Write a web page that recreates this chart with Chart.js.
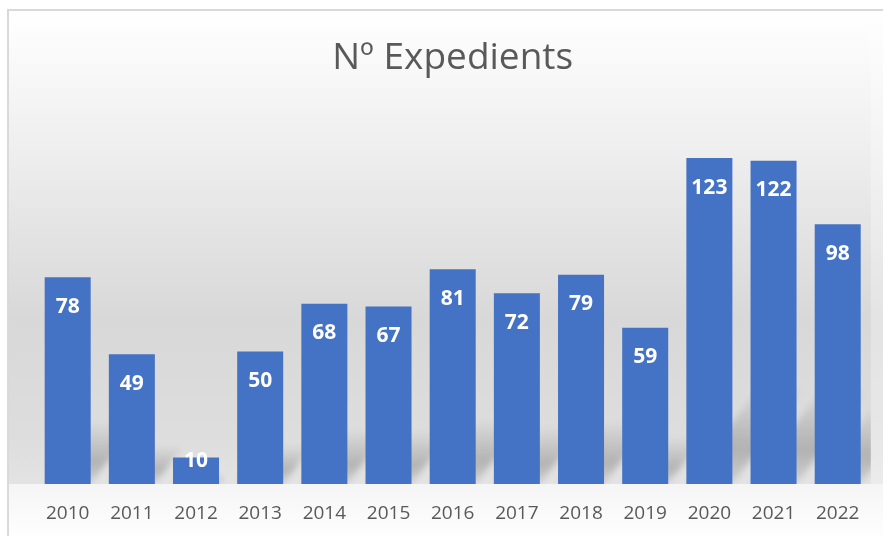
<!DOCTYPE html>
<html lang="ca">
<head>
    <meta charset="UTF-8">
    <title>Nº Expedients</title>
    <script src="https://cdn.jsdelivr.net/npm/chart.js"></script>
    <style>
        html, body { margin: 0; padding: 0; background: #fff; }
        canvas { display: block; }
    </style>
</head>
<body>
    <canvas id="myChart" width="883" height="536"></canvas>
    <script>
        const years = ['2010', '2011', '2012', '2013', '2014', '2015', '2016', '2017', '2018', '2019', '2020', '2021', '2022'];
        const expedients = [78, 49, 10, 50, 68, 67, 81, 72, 79, 59, 123, 122, 98];
        const chartTitle = 'Nº Expedients';

        // grey gradient panel with a thin frame, like an office chart
        const panelBackground = {
            id: 'panelBackground',
            beforeDraw(chart) {
                const { ctx, chartArea } = chart;
                const W = chart.width, H = chart.height;
                ctx.save();
                ctx.fillStyle = '#ffffff';
                ctx.fillRect(0, 0, W, H);

                const g = ctx.createLinearGradient(0, 11, 0, chartArea.bottom);
                g.addColorStop(0, '#ffffff');
                g.addColorStop(0.3, '#eeeeee');
                g.addColorStop(0.65, '#d8d8d8');
                g.addColorStop(0.9, '#dddddd');
                g.addColorStop(1, '#e3e3e3');
                ctx.fillStyle = g;
                ctx.fillRect(9, 11, W, chartArea.bottom - 11);

                // lighter strip past the plot on the right
                ctx.fillStyle = 'rgba(255,255,255,0.3)';
                ctx.fillRect(chartArea.right + 1, 11, W, chartArea.bottom - 11);

                const g2 = ctx.createLinearGradient(0, chartArea.bottom, 0, H);
                g2.addColorStop(0, '#f5f5f5');
                g2.addColorStop(1, '#fefefe');
                ctx.fillStyle = g2;
                ctx.fillRect(9, chartArea.bottom, W, H - chartArea.bottom);

                ctx.strokeStyle = '#d9d9d9';
                ctx.lineWidth = 2;
                ctx.strokeRect(8, 10, W + 20, H + 20);
                ctx.restore();
            }
        };

        // slanted soft shadows behind each bar
        const barShadows = {
            id: 'barShadows',
            beforeDatasetsDraw(chart) {
                const { ctx, chartArea } = chart;
                const meta = chart.getDatasetMeta(0);
                ctx.save();
                ctx.beginPath();
                ctx.rect(10, chartArea.top, chartArea.right + 1 - 10, chartArea.bottom - chartArea.top);
                ctx.clip();
                ctx.filter = 'blur(3px)';
                meta.data.forEach(bar => {
                    const { x, y, base, width } = bar.getProps(['x', 'y', 'base', 'width'], true);
                    const h = (base - y) * 0.3;
                    const s = h * 0.75;
                    const g = ctx.createLinearGradient(0, base, 0, base - h);
                    g.addColorStop(0, 'rgba(0,0,0,0.08)');
                    g.addColorStop(0.35, 'rgba(0,0,0,0.2)');
                    g.addColorStop(1, 'rgba(0,0,0,0)');
                    ctx.fillStyle = g;
                    ctx.beginPath();
                    ctx.moveTo(x - width / 2, base);
                    ctx.lineTo(x + width / 2, base);
                    ctx.lineTo(x + width / 2 + s, base - h);
                    ctx.lineTo(x - width / 2 + s, base - h);
                    ctx.closePath();
                    ctx.fill();
                });
                ctx.restore();
            }
        };

        // white value labels inside the top of each bar
        const valueLabels = {
            id: 'valueLabels',
            afterDatasetsDraw(chart) {
                const { ctx } = chart;
                const meta = chart.getDatasetMeta(0);
                ctx.save();
                ctx.font = 'bold 21px "Open Sans"';
                ctx.fillStyle = '#ffffff';
                ctx.textAlign = 'center';
                ctx.textBaseline = 'middle';
                meta.data.forEach((bar, i) => {
                    const { x, y, base } = bar.getProps(['x', 'y', 'base'], true);
                    const ly = Math.min(y + 29.5, base - 22.5);
                    ctx.fillText(String(expedients[i]), x, ly);
                });
                ctx.restore();
            }
        };

        const ctx = document.getElementById('myChart').getContext('2d');
        new Chart(ctx, {
            type: 'bar',
            data: {
                labels: years,
                datasets: [{
                    data: expedients,
                    backgroundColor: '#4472C4',
                    borderWidth: 0,
                    categoryPercentage: 1,
                    barPercentage: 0.717
                }]
            },
            options: {
                responsive: false,
                animation: false,
                layout: {
                    padding: { left: 35.6, right: 13.2, top: 0, bottom: 11 }
                },
                plugins: {
                    legend: { display: false },
                    tooltip: { enabled: false },
                    title: {
                        display: true,
                        text: chartTitle,
                        color: '#595959',
                        font: { family: '"Open Sans"', size: 37, weight: 'normal', lineHeight: 1.2 },
                        padding: { top: 36.4, bottom: 32.2 }
                    }
                },
                scales: {
                    x: {
                        grid: { display: false, drawTicks: false },
                        border: { display: false },
                        ticks: {
                            color: '#595959',
                            padding: 18,
                            font: { family: '"Open Sans"', size: 19 }
                        },
                        afterFit(scale) {
                            scale.height = 41;
                        }
                    },
                    y: {
                        display: false,
                        min: 0,
                        max: 140
                    }
                }
            },
            plugins: [panelBackground, barShadows, valueLabels]
        });
    </script>
</body>
</html>
